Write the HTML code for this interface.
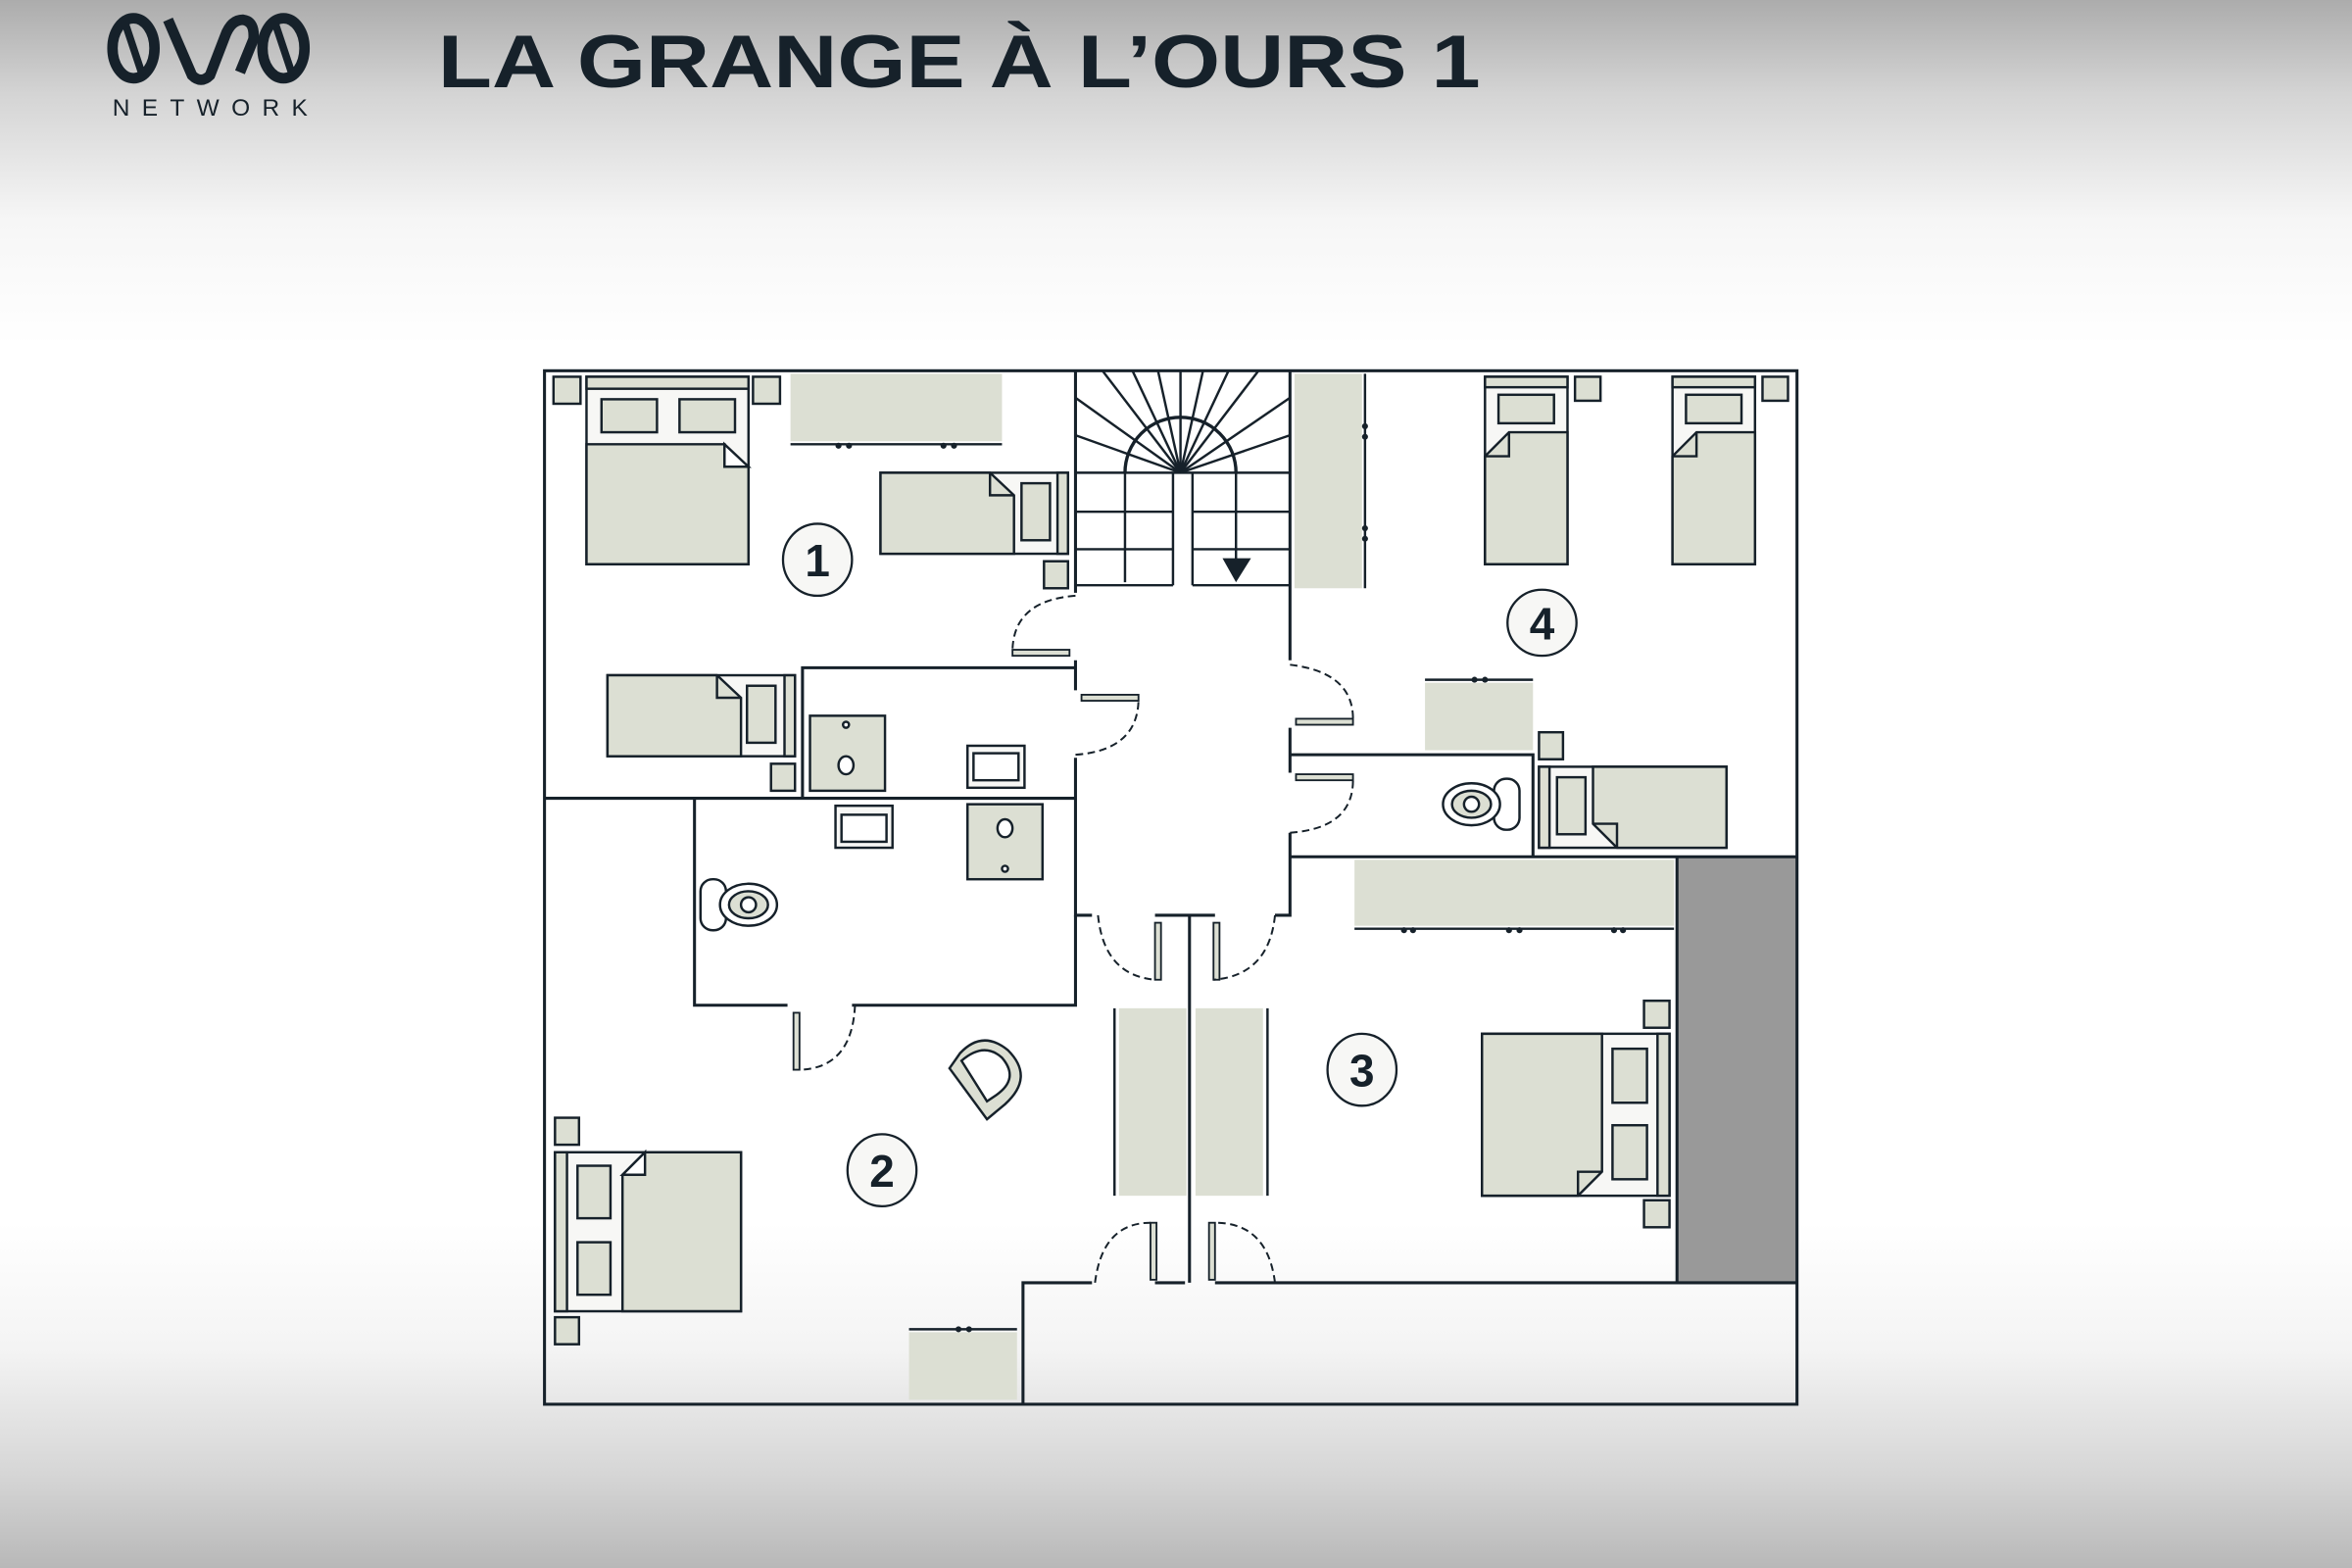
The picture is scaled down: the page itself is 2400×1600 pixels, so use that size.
<!DOCTYPE html>
<html><head><meta charset="utf-8"><style>
html,body{margin:0;padding:0}
body{width:2400px;height:1600px;overflow:hidden;background:linear-gradient(to bottom,#acacac 0%,#d4d4d4 6%,#f6f6f6 14%,#ffffff 22%,#ffffff 78%,#f4f4f4 86%,#d6d6d6 94%,#b8b8b8 100%)}
svg{display:block}
</style></head><body>
<svg width="2400" height="1600" viewBox="0 0 1568 1045" xmlns="http://www.w3.org/2000/svg">
<g fill="none" stroke="#16212a" stroke-width="7">
 <ellipse cx="89" cy="32" rx="14" ry="20"/>
 <path d="M112 13 L128 50 Q134 56 140 50 L150 24 Q154 13 162 13 Q170 14 169 26 L160 48"/>
 <ellipse cx="189" cy="32" rx="14" ry="20"/>
</g>
<g stroke="#16212a" stroke-width="5"><line x1="83" y1="14" x2="95" y2="50"/><line x1="183" y1="14" x2="195" y2="50"/></g>
<text x="75" y="77" font-family="Liberation Sans, sans-serif" font-size="16" fill="#16212a" textLength="130" lengthAdjust="spacing">NETWORK</text>
<text x="292" y="58" font-family="Liberation Sans, sans-serif" font-weight="bold" font-size="50" fill="#16212a" textLength="695" lengthAdjust="spacingAndGlyphs">LA GRANGE À L’OURS 1</text>

<rect x="1118" y="571" width="80" height="284" fill="#999"/>

<g fill="#dcdfd3" stroke="none">
 <rect x="527" y="249" width="141" height="45"/>
 <rect x="863" y="249" width="45" height="143"/>
 <rect x="950" y="455" width="72" height="45"/>
 <rect x="903" y="573" width="213" height="44"/>
 <rect x="606" y="888" width="72" height="45"/>
 <rect x="746" y="672" width="45" height="125"/>
 <rect x="797" y="672" width="45" height="125"/>
</g>

<g stroke="#16212a" stroke-width="1.6" fill="none">
 <line x1="527" y1="296" x2="668" y2="296"/>
 <line x1="903" y1="619" x2="1116" y2="619"/>
 <line x1="950" y1="453" x2="1022" y2="453"/>
 <line x1="606" y1="886" x2="678" y2="886"/>
 <line x1="910" y1="249" x2="910" y2="392"/>
 <line x1="743" y1="672" x2="743" y2="797"/>
 <line x1="845" y1="672" x2="845" y2="797"/>
</g>
<g fill="#16212a">
 <circle cx="559" cy="297" r="2"/><circle cx="566" cy="297" r="2"/><circle cx="629" cy="297" r="2"/><circle cx="636" cy="297" r="2"/>
 <circle cx="936" cy="620" r="2"/><circle cx="942" cy="620" r="2"/><circle cx="1006" cy="620" r="2"/><circle cx="1013" cy="620" r="2"/><circle cx="1076" cy="620" r="2"/><circle cx="1082" cy="620" r="2"/>
 <circle cx="983" cy="453" r="2"/><circle cx="990" cy="453" r="2"/>
 <circle cx="639" cy="886" r="2"/><circle cx="646" cy="886" r="2"/>
 <circle cx="910" cy="284" r="2"/><circle cx="910" cy="291" r="2"/><circle cx="910" cy="352" r="2"/><circle cx="910" cy="359" r="2"/>
</g>

<g stroke="#16212a" stroke-width="1.6">
 <rect x="369" y="251" width="18" height="18" fill="#dcdfd3"/>
 <rect x="502" y="251" width="18" height="18" fill="#dcdfd3"/>
 <rect x="391" y="251" width="108" height="125" fill="#f7f7f5"/>
 <rect x="391" y="251" width="108" height="8" fill="#dcdfd3"/>
 <rect x="401" y="266" width="37" height="22" fill="#dcdfd3"/>
 <rect x="453" y="266" width="37" height="22" fill="#dcdfd3"/>
 <path d="M391 296 H483 V311 H499 V376 H391 Z" fill="#dcdfd3"/>
 <path d="M483 296 L499 311 H483 Z" fill="#fff"/>
 <rect x="587" y="315" width="125" height="54" fill="#f7f7f5"/>
 <path d="M587 315 H660 L676 330 V369 H587 Z" fill="#dcdfd3"/>
 <path d="M660 315 V330 H676" fill="none"/>
 <rect x="681" y="322" width="19" height="38" fill="#dcdfd3"/>
 <rect x="705" y="315" width="7" height="54" fill="#dcdfd3"/>
 <rect x="696" y="374" width="16" height="18" fill="#dcdfd3"/>
 <rect x="405" y="450" width="125" height="54" fill="#f7f7f5"/>
 <path d="M405 450 H478 L494 465 V504 H405 Z" fill="#dcdfd3"/>
 <path d="M478 450 V465 H494" fill="none"/>
 <rect x="498" y="457" width="19" height="38" fill="#dcdfd3"/>
 <rect x="523" y="450" width="7" height="54" fill="#dcdfd3"/>
 <rect x="514" y="509" width="16" height="18" fill="#dcdfd3"/>
 <rect x="540" y="477" width="50" height="50" fill="#dcdfd3"/>
 <rect x="645" y="497" width="38" height="28" fill="#f7f7f5"/><rect x="649" y="502" width="30" height="18" fill="#fff"/>
 <rect x="557" y="537" width="38" height="28" fill="#f7f7f5"/><rect x="561" y="543" width="30" height="18" fill="#fff"/>
 <rect x="645" y="536" width="50" height="50" fill="#dcdfd3"/>
 <ellipse cx="564" cy="510" rx="5" ry="6" fill="#fff"/><ellipse cx="670" cy="552" rx="5" ry="6" fill="#fff"/>
 <circle cx="564" cy="483" r="2" fill="#fff"/><circle cx="670" cy="579" r="2" fill="#fff"/>
 <rect x="467" y="586" width="17" height="34" rx="8" fill="#fff"/>
 <ellipse cx="499" cy="603" rx="19" ry="14" fill="#fff"/><ellipse cx="499" cy="603" rx="13" ry="9" fill="#dcdfd3"/><circle cx="499" cy="603" r="5" fill="#fff"/>
 <rect x="996" y="519" width="17" height="34" rx="8" fill="#fff"/>
 <ellipse cx="981" cy="536" rx="19" ry="14" fill="#fff"/><ellipse cx="981" cy="536" rx="13" ry="9" fill="#dcdfd3"/><circle cx="981" cy="536" r="5" fill="#fff"/>
 <rect x="370" y="745" width="16" height="18" fill="#dcdfd3"/>
 <rect x="370" y="878" width="16" height="18" fill="#dcdfd3"/>
 <rect x="370" y="768" width="124" height="106" fill="#f7f7f5"/>
 <rect x="370" y="768" width="8" height="106" fill="#dcdfd3"/>
 <rect x="385" y="777" width="22" height="35" fill="#dcdfd3"/>
 <rect x="385" y="828" width="22" height="35" fill="#dcdfd3"/>
 <path d="M415 783 L430 768 H494 V874 H415 Z" fill="#dcdfd3"/>
 <path d="M415 783 H430 V768 Z" fill="#fff"/>
 <path d="M633 712 L658 746 L670 736 Q690 718 672 700 Q655 686 640 702 Z" fill="#dcdfd3"/>
 <path d="M641 707 Q656 694 668 705 Q680 719 664 730 L658 734 Z" fill="#fff"/>
 <rect x="990" y="251" width="55" height="125" fill="#f7f7f5"/>
 <rect x="990" y="251" width="55" height="7" fill="#dcdfd3"/>
 <rect x="999" y="263" width="37" height="19" fill="#dcdfd3"/>
 <path d="M990 304 L1006 288 H1045 V376 H990 Z" fill="#dcdfd3"/><path d="M990 304 H1006 V288" fill="none"/>
 <rect x="1050" y="251" width="17" height="16" fill="#dcdfd3"/>
 <rect x="1115" y="251" width="55" height="125" fill="#f7f7f5"/>
 <rect x="1115" y="251" width="55" height="7" fill="#dcdfd3"/>
 <rect x="1124" y="263" width="37" height="19" fill="#dcdfd3"/>
 <path d="M1115 304 L1131 288 H1170 V376 H1115 Z" fill="#dcdfd3"/><path d="M1115 304 H1131 V288" fill="none"/>
 <rect x="1175" y="251" width="17" height="16" fill="#dcdfd3"/>
 <rect x="1026" y="488" width="16" height="18" fill="#dcdfd3"/>
 <rect x="1026" y="511" width="125" height="54" fill="#f7f7f5"/>
 <rect x="1026" y="511" width="7" height="54" fill="#dcdfd3"/>
 <rect x="1038" y="518" width="19" height="38" fill="#dcdfd3"/>
 <path d="M1062 511 H1151 V565 H1078 L1062 549 Z" fill="#dcdfd3"/><path d="M1062 549 H1078 V565" fill="none"/>
 <rect x="1096" y="667" width="17" height="18" fill="#dcdfd3"/>
 <rect x="1096" y="800" width="17" height="18" fill="#dcdfd3"/>
 <rect x="988" y="689" width="125" height="108" fill="#f7f7f5"/>
 <rect x="1105" y="689" width="8" height="108" fill="#dcdfd3"/>
 <rect x="1075" y="699" width="23" height="36" fill="#dcdfd3"/>
 <rect x="1075" y="750" width="23" height="36" fill="#dcdfd3"/>
 <path d="M988 689 H1068 V781 L1052 797 H988 Z" fill="#dcdfd3"/><path d="M1052 797 V781 H1068" fill="none"/>
 <g fill="#dcdfd3" stroke-width="1.2">
  <rect x="675" y="433" width="38" height="4"/><rect x="721" y="463" width="38" height="4"/>
  <rect x="864" y="479" width="38" height="4"/><rect x="864" y="516" width="38" height="4"/>
  <rect x="529" y="675" width="4" height="38"/>
  <rect x="770" y="615" width="4" height="38"/><rect x="809" y="615" width="4" height="38"/>
  <rect x="767" y="815" width="4" height="38"/><rect x="806" y="815" width="4" height="38"/>
 </g>
</g>

<g stroke="#16212a" stroke-width="1.6" fill="none">
 <line x1="717" y1="315" x2="860" y2="315"/><line x1="717" y1="341" x2="782" y2="341"/><line x1="795" y1="341" x2="860" y2="341"/>
 <line x1="717" y1="366" x2="782" y2="366"/><line x1="795" y1="366" x2="860" y2="366"/>
 <line x1="717" y1="390" x2="782" y2="390"/><line x1="795" y1="390" x2="860" y2="390"/>
 <line x1="782" y1="315" x2="782" y2="390"/><line x1="795" y1="315" x2="795" y2="390"/>
 <line x1="750" y1="315" x2="750" y2="388"/><line x1="824" y1="315" x2="824" y2="375"/>
 <path d="M750 315 A37 37 0 0 1 824 315" stroke-width="2.2"/>
 <line x1="787" y1="315" x2="717" y2="265"/><line x1="787" y1="315" x2="717" y2="290"/><line x1="787" y1="315" x2="735" y2="247"/>
 <line x1="787" y1="315" x2="755" y2="247"/><line x1="787" y1="315" x2="772" y2="247"/><line x1="787" y1="315" x2="787" y2="247"/>
 <line x1="787" y1="315" x2="802" y2="247"/><line x1="787" y1="315" x2="819" y2="247"/><line x1="787" y1="315" x2="839" y2="247"/>
 <line x1="787" y1="315" x2="860" y2="265"/><line x1="787" y1="315" x2="860" y2="290"/>
</g>
<path d="M815 372 H834 L824 388 Z" fill="#16212a"/>

<g stroke="#16212a" stroke-width="2" fill="none">
 <rect x="363" y="247" width="835" height="689"/>
 <path d="M682 936 V855 H728 M770 855 H790 M810 855 H850 M850 855 H1198"/>
 <line x1="1118" y1="571" x2="1118" y2="855"/>
 <path d="M717 247 V395 M717 440 V460 M717 505 V610 H728 M770 610 H810 M850 610 H860 V555 M860 515 V485 M860 440 V247"/>
 <line x1="793" y1="610" x2="793" y2="855"/>
 <path d="M363 532 H717 M535 532 V445 H717"/>
 <path d="M463 532 V670 H525 M568 670 H717 V610"/>
 <path d="M860 503 H1022 V571 M860 571 H1198"/>
</g>
<g stroke="#16212a" stroke-width="1.3" fill="none" stroke-dasharray="5,3">
 <path d="M717 397 Q676 400 675 433"/>
 <path d="M717 503 Q758 500 759 467"/>
 <path d="M860 443 Q902 448 902 479"/>
 <path d="M860 555 Q902 552 902 520"/>
 <path d="M570 670 Q568 712 533 713"/>
 <path d="M732 610 Q736 650 770 653"/>
 <path d="M850 610 Q846 650 809 653"/>
 <path d="M730 855 Q735 815 767 815"/>
 <path d="M850 855 Q845 815 810 815"/>
</g>

<g font-family="Liberation Sans, sans-serif" font-weight="bold" font-size="30" fill="#16212a" text-anchor="middle">
 <ellipse cx="545" cy="373" rx="23" ry="24" fill="#f7f7f5" stroke="#16212a" stroke-width="1.5"/><text x="545" y="384">1</text>
 <ellipse cx="588" cy="780" rx="23" ry="24" fill="#f7f7f5" stroke="#16212a" stroke-width="1.5"/><text x="588" y="791">2</text>
 <ellipse cx="908" cy="713" rx="23" ry="24" fill="#f7f7f5" stroke="#16212a" stroke-width="1.5"/><text x="908" y="724">3</text>
 <ellipse cx="1028" cy="415" rx="23" ry="22" fill="#f7f7f5" stroke="#16212a" stroke-width="1.5"/><text x="1028" y="426">4</text>
</g>
</svg>
</body></html>
